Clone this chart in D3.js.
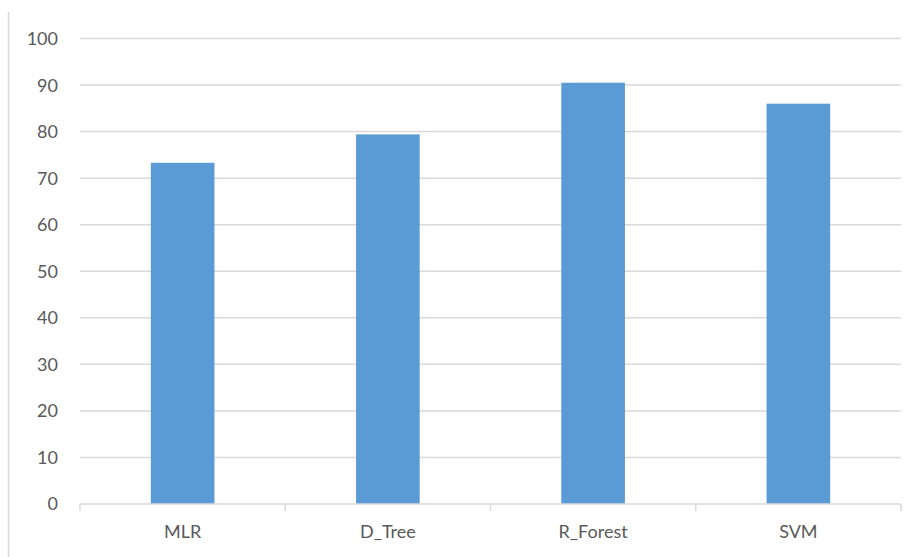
<!DOCTYPE html>
<html>
<head>
<meta charset="utf-8">
<script src="https://cdn.jsdelivr.net/npm/d3@7"></script>
<style>
  body { margin: 0; background: #fff; }
  text { font-family: Lato, "Open Sans", sans-serif; }
</style>
</head>
<body>
<div id="chart"></div>
<script>
// data
const models = ["MLR", "D_Tree", "R_Forest", "SVM"];
const accuracy = [73.3, 79.4, 90.5, 86.0];
const yTicks = [0, 10, 20, 30, 40, 50, 60, 70, 80, 90, 100];

const width = 920,
      height = 557,
      margin = ({ top: 38.5, right: 19, bottom: 53, left: 80 });

const data = models.map((m, i) => ({ model: m, value: accuracy[i] }));

let svg = d3.select("#chart")
    .append("svg")
    .attr("width", width)
    .attr("height", height);

// thin frame edge on the left
svg.append("line")
    .attr("x1", 8.5).attr("x2", 8.5)
    .attr("y1", 12).attr("y2", height)
    .attr("stroke", "#d9d9d9")
    .attr("stroke-width", 1.5);

let x = d3.scaleBand()
    .domain(models)
    .range([margin.left, width - margin.right])
    .padding(0);

let y = d3.scaleLinear()
    .domain([0, 100])
    .range([height - margin.bottom, margin.top]);

// gridlines
svg.append("g")
    .selectAll("line")
    .data(yTicks.filter(d => d > 0))
    .join("line")
    .attr("x1", margin.left)
    .attr("x2", width - margin.right)
    .attr("y1", d => y(d))
    .attr("y2", d => y(d))
    .attr("stroke", "#d9d9d9")
    .attr("stroke-width", 1.5);

// y labels
svg.append("g")
    .selectAll("text")
    .data(yTicks)
    .join("text")
    .attr("x", 58)
    .attr("y", d => y(d))
    .attr("dy", "0.36em")
    .attr("text-anchor", "end")
    .attr("fill", "#595959")
    .style("font-size", "18px")
    .text(d => d);

// bars
const barW = x.bandwidth() * 0.31;
svg.append("g")
    .selectAll("rect")
    .data(data)
    .join("rect")
    .attr("x", d => x(d.model) + (x.bandwidth() - barW) / 2)
    .attr("width", barW)
    .attr("y", d => y(d.value))
    .attr("height", d => y(0) - y(d.value))
    .attr("fill", "#5b9bd5");

// category axis
let xAxis = svg.append("g")
    .attr("transform", `translate(0,${y(0)})`);

xAxis.append("line")
    .attr("x1", margin.left)
    .attr("x2", width - margin.right)
    .attr("stroke", "#d9d9d9")
    .attr("stroke-width", 1.5);

xAxis.selectAll(".tick")
    .data(models.map(m => x(m)).concat([x(models[models.length - 1]) + x.bandwidth()]))
    .join("line")
    .attr("class", "tick")
    .attr("x1", d => d).attr("x2", d => d)
    .attr("y1", 0).attr("y2", 7)
    .attr("stroke", "#d9d9d9")
    .attr("stroke-width", 1.5);

xAxis.selectAll("text")
    .data(models)
    .join("text")
    .attr("x", d => x(d) + x.bandwidth() / 2)
    .attr("y", 28)
    .attr("dy", "0.36em")
    .attr("text-anchor", "middle")
    .attr("fill", "#595959")
    .style("font-size", "18px")
    .text(d => d);
</script>
</body>
</html>
